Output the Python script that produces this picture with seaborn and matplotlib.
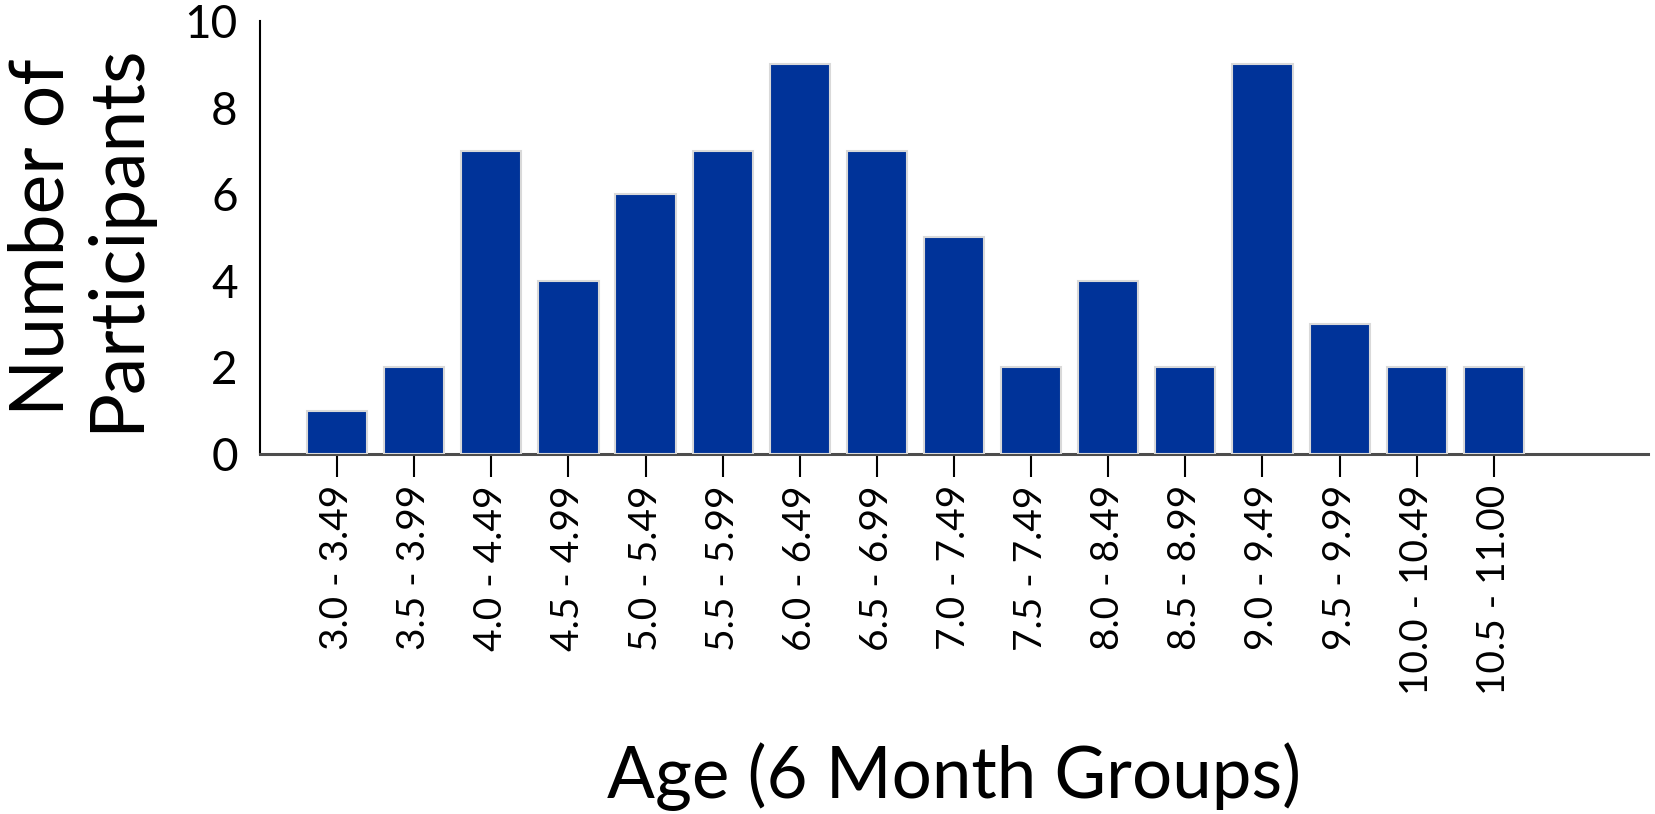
import seaborn as sns
import matplotlib.pyplot as plt
import pandas as pd

# age groups (note: the original chart labels the 10th group "7.5 - 7.49")
age_groups = ['3.0 - 3.49', '3.5 - 3.99', '4.0 - 4.49', '4.5 - 4.99',
              '5.0 - 5.49', '5.5 - 5.99', '6.0 - 6.49', '6.5 - 6.99',
              '7.0 - 7.49', '7.5 - 7.49', '8.0 - 8.49', '8.5 - 8.99',
              '9.0 - 9.49', '9.5 - 9.99', '10.0 - 10.49', '10.5 - 11.00']
participants = [1, 2, 7, 4, 6, 7, 9, 7, 5, 2, 4, 2, 9, 3, 2, 2]
major_yticks = [0, 2, 4, 6, 8, 10]
minor_yticks = [1, 3, 5, 7, 9]

df = pd.DataFrame({'age': age_groups, 'n': participants})

sns.set_style('white')
plt.rcParams['font.family'] = ['Lato', 'DejaVu Sans']
plt.rcParams['text.color'] = 'black'
plt.rcParams['axes.labelcolor'] = 'black'
plt.rcParams['xtick.color'] = 'black'
plt.rcParams['ytick.color'] = 'black'

fig = plt.figure(figsize=(16.55, 8.14), dpi=100)
ax = fig.add_axes([0.1571, 0.4423, 0.8387, 0.5319])

sns.barplot(data=df, x='age', y='n', color='#003399', saturation=1,
            width=0.78, edgecolor='#d9d9d9', linewidth=1.5, zorder=3, ax=ax)

ax.set_xlim(-1, 17)
ax.set_ylim(0, 10)
sns.despine(ax=ax, top=True, right=True)
ax.spines['left'].set_color('black')
ax.spines['left'].set_linewidth(1.5)
ax.spines['bottom'].set_color('#4d4d4d')
ax.spines['bottom'].set_linewidth(2.2)

ax.set_yticks(major_yticks)
ax.set_yticks(minor_yticks, minor=True)
ax.tick_params(axis='y', which='major', length=0, pad=16, labelsize=33)
ax.tick_params(axis='y', which='minor', direction='in', length=9.5,
               width=1.5, color='black')
ax.tick_params(axis='x', which='major', direction='out', length=16.5,
               width=1.5, color='black', pad=6, labelsize=28,
               labelrotation=90, bottom=True)

ax.set_xlabel('Age (6 Month Groups)', fontsize=51, labelpad=34)
ax.set_ylabel('Number of\nParticipants', fontsize=54, labelpad=24,
              linespacing=1.1)

fig.savefig('out.png', dpi=100)
